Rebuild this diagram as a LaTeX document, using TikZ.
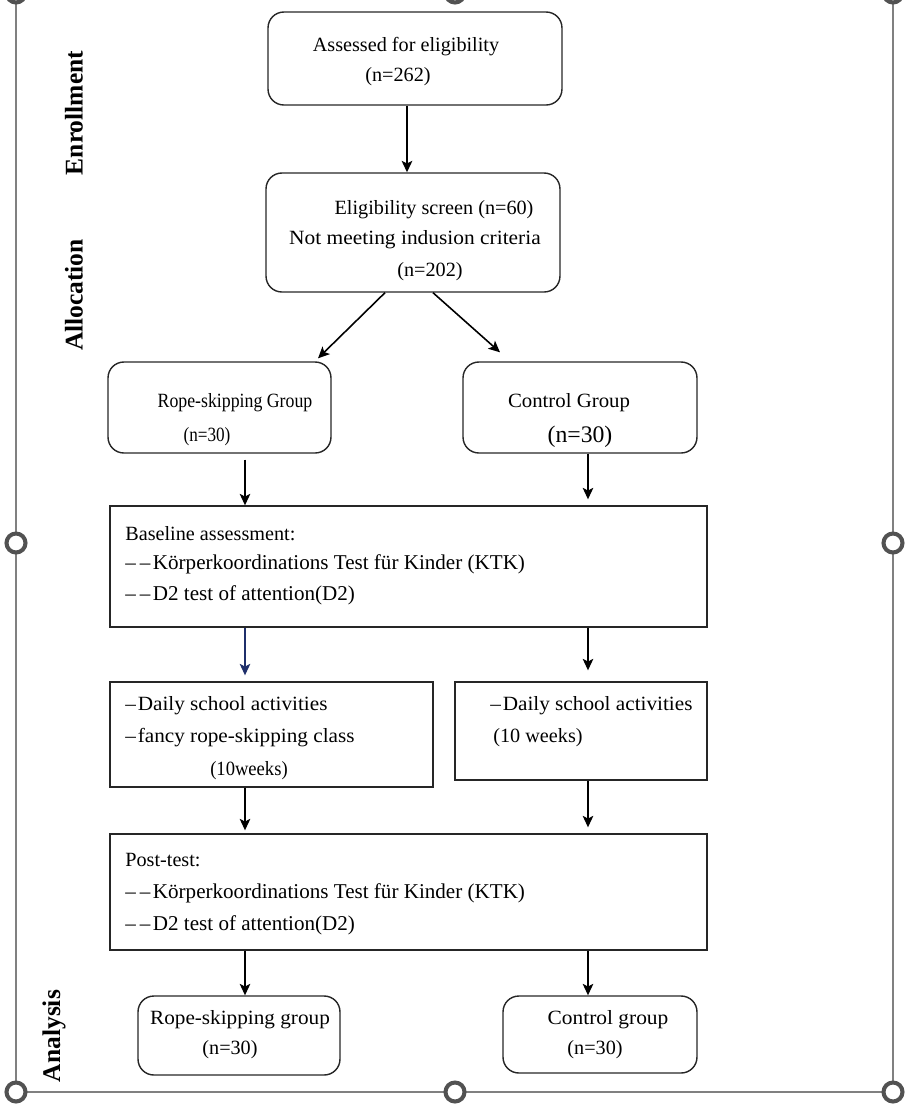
\documentclass[tikz,border=0pt]{standalone}
\usepackage{fontspec}
\usepackage{graphicx}
\setmainfont{Liberation Serif}
\usetikzlibrary{arrows.meta,calc}
\definecolor{navyarr}{HTML}{1F2F6B}
\newcommand{\hsq}[2]{\scalebox{#1}[1]{#2}}
\newcommand{\ddash}{\textendash\kern2.2pt\textendash\kern1.5pt}
\newcommand{\sdash}{\textendash\kern1pt}
\begin{document}
\begin{tikzpicture}[x=0.02cm,y=-0.02cm,
  rbox/.style={draw=black!85, line width=0.8pt, rounded corners=9pt, inner sep=0pt},
  sbox/.style={draw=black!85, line width=0.8pt, inner sep=0pt},
  txt/.style={inner sep=0pt, font=\fontsize{11.5}{13}\selectfont},
  ltxt/.style={txt, anchor=west},
  btxt/.style={inner sep=0pt, anchor=west, font=\fontsize{12}{14}\selectfont},
  arr/.style={-{Stealth[length=6.5pt,width=6pt,inset=1.5pt]}, line width=0.9pt},
  frameline/.style={draw=black!50, line width=1pt},
  handle/.style={draw=black!68, line width=2.3pt, fill=white},
  side/.style={rotate=90, inner sep=0pt, font=\fontsize{14.5}{16}\selectfont\bfseries}
]
\useasboundingbox (0,0) rectangle (912,1110);

% selection frame
\draw[frameline] (16,-10) -- (16,1092) -- (893,1092) -- (893,-10);
\foreach \hx/\hy in {16/-7,455/-7,893/-7,16/543,893/543,16/1092,455/1092,893/1092}
  \draw[handle] (\hx,\hy) circle[radius=0.19cm];

% side labels
\node[side] (lenr) at (74,113) {Enrollment};
\node[side] (lall) at (74,295) {Allocation};
\node[side] (lana) at (54,1036) {Analysis};

% boxes
\node[rbox, minimum width=5.88cm, minimum height=1.86cm] (assess) at (415,58.5) {};
\node[txt] (assessA) at (406,47) {Assessed for eligibility};
\node[txt] (assessB) at (398,77) {(n=262)};

\node[rbox, minimum width=5.88cm, minimum height=2.38cm] (elig) at (413,232.5) {};
\node[txt] (eligA) at (434,210) {Eligibility screen (n=60)};
\node[txt] (eligB) at (415,240) {\hsq{1.06}{Not meeting indusion criteria}};
\node[txt] (eligC) at (430,272) {(n=202)};

\node[rbox, minimum width=4.46cm, minimum height=1.82cm] (rope) at (219.5,407.5) {};
\node[txt] (ropeA) at (235,403) {\hsq{0.88}{Rope-skipping Group}};
\node[txt] (ropeB) at (207,437) {\hsq{0.85}{(n=30)}};

\node[rbox, minimum width=4.68cm, minimum height=1.82cm] (ctrl) at (580,407.5) {};
\node[txt] (ctrlA) at (569,403) {\hsq{1.03}{Control Group}};
\node[txt, font=\fontsize{13.5}{15}\selectfont] (ctrlB) at (580,437) {(n=30)};

\node[sbox, minimum width=11.94cm, minimum height=2.42cm] (base) at (408.5,566.5) {};
\node[ltxt] (baseA) at (125,534) {Baseline assessment:};
\node[btxt] (baseB) at (125,564) {\ddash Körperkoordinations Test für Kinder (KTK)};
\node[btxt] (baseC) at (125,595) {\ddash D2 test of attention(D2)};

\node[sbox, minimum width=6.46cm, minimum height=2.10cm] (actL) at (271.5,734.5) {};
\node[ltxt] (actLA) at (125,706) {\hsq{1.05}{\sdash Daily school activities}};
\node[ltxt] (actLB) at (125,738) {\hsq{1.05}{\sdash fancy rope-skipping class}};
\node[txt] (actLC) at (249,771) {\hsq{0.92}{(10weeks)}};

\node[sbox, minimum width=5.04cm, minimum height=1.96cm] (actR) at (581,731) {};
\node[ltxt] (actRA) at (490,706) {\hsq{1.05}{\sdash Daily school activities}};
\node[txt] (actRB) at (538,738) {(10 weeks)};

\node[sbox, minimum width=11.94cm, minimum height=2.32cm] (post) at (408.5,892) {};
\node[ltxt] (postA) at (125,860) {Post-test:};
\node[btxt] (postB) at (125,893) {\ddash Körperkoordinations Test für Kinder (KTK)};
\node[btxt] (postC) at (125,925) {\ddash D2 test of attention(D2)};

\node[rbox, minimum width=4.04cm, minimum height=1.58cm] (anL) at (239,1035.5) {};
\node[txt] (anLA) at (240,1020) {\hsq{1.05}{Rope-skipping group}};
\node[txt] (anLB) at (230,1050) {(n=30)};

\node[rbox, minimum width=3.88cm, minimum height=1.54cm] (anR) at (600,1034.5) {};
\node[txt] (anRA) at (608,1020) {\hsq{1.06}{Control group}};
\node[txt] (anRB) at (595,1050) {(n=30)};

% connectors
\draw[arr, line width=1.3pt] (407,0 |- assess.south) -- (407,0 |- elig.north);
\draw[arr] (385,0 |- elig.south) -- ($(318,0 |- rope.north)+(0,-3)$);
\draw[arr] (433,0 |- elig.south) -- ($(500,0 |- ctrl.north)+(0,-9)$);
\draw[arr] ($(245,0 |- rope.south)+(0,6)$) -- (245,0 |- base.north);
\draw[arr] (588,0 |- ctrl.south) -- ($(588,0 |- base.north)+(0,-6)$);
\draw[arr, draw=navyarr] (245,0 |- base.south) -- ($(245,0 |- actL.north)+(0,-6)$);
\draw[arr] (588,0 |- base.south) -- ($(588,0 |- actR.north)+(0,-11)$);
\draw[arr] (245,0 |- actL.south) -- ($(245,0 |- post.north)+(0,-3)$);
\draw[arr] (588,0 |- actR.south) -- ($(588,0 |- post.north)+(0,-6)$);
\draw[arr] (245,0 |- post.south) -- (245,0 |- anL.north);
\draw[arr] (588,0 |- post.south) -- (588,0 |- anR.north);
\end{tikzpicture}
\end{document}
